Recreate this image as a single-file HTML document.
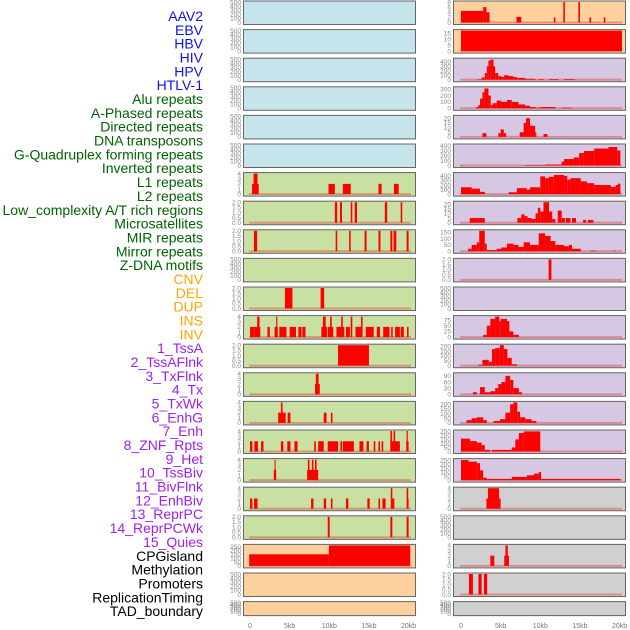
<!DOCTYPE html>
<html><head><meta charset="utf-8">
<style>
html,body{margin:0;padding:0;background:#fff;}
svg{display:block;}
text{font-family:"Liberation Sans",sans-serif;}
</style></head>
<body>
<svg id="chart" width="630" height="630" viewBox="0 0 630 630" xmlns="http://www.w3.org/2000/svg"></svg>
<script>
// ---- category labels ----
const trackLabels = ["AAV2","EBV","HBV","HIV","HPV","HTLV-1","Alu repeats","A-Phased repeats","Directed repeats","DNA transposons","G-Quadruplex forming repeats","Inverted repeats","L1 repeats","L2 repeats","Low_complexity A/T rich regions","Microsatellites","MIR repeats","Mirror repeats","Z-DNA motifs","CNV","DEL","DUP","INS","INV","1_TssA","2_TssAFlnk","3_TxFlnk","4_Tx","5_TxWk","6_EnhG","7_Enh","8_ZNF_Rpts","9_Het","10_TssBiv","11_BivFlnk","12_EnhBiv","13_ReprPC","14_ReprPCWk","15_Quies","CPGisland","Methylation","Promoters","ReplicationTiming","TAD_boundary"];
const labelColors = ["#1010ee","#1010ee","#1010ee","#1010ee","#1010ee","#1010ee","#006400","#006400","#006400","#006400","#006400","#006400","#006400","#006400","#006400","#006400","#006400","#006400","#006400","#ffa500","#ffa500","#ffa500","#ffa500","#ffa500","#a020f0","#a020f0","#a020f0","#a020f0","#a020f0","#a020f0","#a020f0","#a020f0","#a020f0","#a020f0","#a020f0","#a020f0","#a020f0","#a020f0","#a020f0","#000","#000","#000","#000","#000"];
const xTickValues = [0,5,10,15,20];
const xTickLabels = ["0","5kb","10kb","15kb","20kb"];

// ---- tick label sets ----
const ticks500 = [0,100,200,300,400,500];
const ticks4 = [0,1,2,3,4];
const ticks2 = [0,0.5,1,1.5,2];
const ticks2Labels = ["0.0","0.5","1.0","1.5","2.0"];

// ---- left column segments [startKb, endKb, value] ----
const left7 = [[0.25,1.1,2],[0.45,0.95,4],[9.9,10.7,2],[11.7,12.7,2],[16.2,16.6,2],[18.15,18.75,2]];
const left8 = [[10.7,11.0,2],[11.35,11.6,2],[12.7,12.9,2],[13.2,13.5,2],[17.0,17.3,2],[19.0,19.2,2]];
const left9 = [[0.5,0.9,2],[10.8,11.0,2],[12.5,12.7,2],[14.45,14.7,2],[16.2,16.45,2],[17.7,17.95,2],[18.1,18.45,2],[19.75,20.0,2]];
const left11 = [[4.4,5.35,2],[8.9,9.35,2]];
const left12 = [[0,0.6,2],[0.6,1.3,2],[0.9,1.2,4],[2.2,2.5,2],[3.1,3.5,2],[3.3,3.45,4],[3.7,4.6,2],[5.0,5.8,2],[6.1,6.5,2],[6.6,7.0,2],[9.0,9.7,2],[9.2,9.55,4],[9.8,10.5,2],[10.1,10.3,4],[10.9,11.9,2],[11.5,11.7,4],[12.1,12.6,2],[12.7,12.9,4],[13.3,14.0,2],[14.0,14.2,4],[14.6,15.6,2],[16.0,16.4,2],[16.8,17.6,2],[17.8,18.0,2],[18.3,18.9,2],[19.0,19.4,2],[19.8,20.0,2]];
const left13 = [[11.1,15.0,2]];
const left14 = [[8.2,8.8,2],[8.3,8.65,4]];
const left15 = [[3.55,4.5,2],[3.9,4.1,4],[4.75,5.1,2],[9.3,9.65,2],[10.2,10.4,2]];
const left16 = [[0,0.3,2],[0.55,1.0,2],[1.4,1.7,2],[3.9,4.2,2],[4.7,5.1,2],[5.6,6.0,2],[8.1,8.3,2],[8.6,9.3,2],[9.8,11.1,2],[11.4,11.6,2],[11.7,13.1,2],[13.8,14.3,2],[14.7,15.0,2],[15.6,15.8,2],[16.2,16.4,2],[16.6,16.8,2],[17.7,18.9,2],[19.7,20.0,2],[17.7,17.9,4],[18.1,18.3,4],[19.75,19.9,4]];
const left17 = [[3.0,3.3,2],[3.1,3.2,4],[7.2,8.6,2],[7.3,7.5,4],[7.8,8.0,4],[8.2,8.4,4]];
const left18 = [[0,0.3,2],[0.5,0.95,2],[7.7,8.0,2],[9.3,9.6,2],[10.2,10.4,2],[12.1,12.4,2],[14.8,15.1,2],[16.2,16.4,2],[16.7,17.1,2],[17.8,18.2,2],[19.8,20.0,2],[17.75,17.95,4],[19.75,19.95,4]];
const left19 = [[9.8,10.05,2],[17.7,17.95,2],[19.75,20.0,2]];
const left20 = [[-0.1,9.95,150],[9.95,20.2,265]];

// ---- right column segments ----
const right1 = [[0,2.8,4.5],[2.8,3.2,6],[3.2,3.6,4],[7.0,7.6,2.2],[11.7,11.9,2],[12.9,13.1,8],[14.8,15.0,8],[16.2,16.4,2],[18.0,18.2,2]];
const right2 = [[0,20.3,17]];
const right3 = [[2.0,2.6,10],[2.6,3.0,50],[3.0,3.25,150],[3.25,3.46,300],[3.46,3.7,430],[3.7,4.1,450],[4.1,4.3,300],[4.3,4.7,150],[4.7,5.1,80],[5.1,5.4,60],[5.4,6.0,100],[6.0,6.6,80],[6.6,7.05,60],[7.05,8.1,40],[8.1,9.4,20],[9.8,10.4,15],[11.1,12.3,15],[13.0,14.4,15]];
const right4 = [[1.9,2.2,20],[2.2,2.4,50],[2.4,2.7,150],[2.7,2.95,250],[2.95,3.46,310],[3.46,3.75,200],[3.75,4.0,50],[4.0,4.5,80],[4.5,5.1,120],[5.1,5.8,100],[5.8,6.4,130],[6.4,7.25,100],[7.25,8.1,60],[8.1,8.7,40],[8.7,9.4,20],[9.4,10.0,10],[10.0,11.9,20],[12.7,14.0,10]];
const right5 = [[2.7,3.2,4],[4.7,5.0,4],[5.0,5.4,8],[5.4,5.7,4],[7.4,7.9,5],[7.9,8.2,15],[8.2,8.7,20],[8.7,9.35,12],[9.35,9.5,5],[10.4,10.9,3]];
const right6 = [[-0.1,0.1,10],[8.1,10.6,10],[10.6,12.7,20],[12.7,13.0,80],[13.0,14.2,130],[14.2,14.9,160],[14.9,15.5,250],[15.5,16.8,290],[16.8,18.6,340],[18.6,19.7,370],[19.7,20.1,300]];
const right7 = [[0,1.35,150],[1.35,2.4,120],[2.4,3.0,50],[6.0,7.05,40],[7.05,8.3,130],[8.3,8.7,100],[8.7,10.0,150],[10.0,10.6,390],[10.6,11.05,350],[11.05,11.7,380],[11.7,13.0,420],[13.0,13.4,400],[13.4,13.8,320],[13.8,15.1,350],[15.1,15.9,280],[15.9,16.8,240],[16.8,18.9,200],[18.9,19.5,160],[19.5,19.8,200],[19.8,20.1,230]];
const right8 = [[1.1,3.0,5],[7.1,7.6,5],[7.6,8.0,9],[8.0,8.4,7],[8.4,8.9,5],[8.9,9.4,4],[9.4,9.7,10],[9.7,10.0,16],[10.0,10.4,12],[10.4,11.1,22],[11.1,11.5,12],[11.5,11.9,4],[12.2,12.7,13],[12.7,13.1,5],[13.2,13.8,5],[14.0,14.5,5],[15.4,15.8,3],[16.0,16.7,3]];
const right9 = [[0.9,1.35,20],[1.35,2.0,50],[2.0,2.3,70],[2.3,3.0,160],[3.0,3.25,60],[3.25,4.5,10],[4.5,5.1,20],[5.1,5.8,30],[5.8,6.6,60],[6.6,7.25,50],[7.25,7.9,35],[7.9,8.7,70],[8.7,9.8,50],[9.8,10.6,140],[10.6,11.3,120],[11.3,11.9,80],[11.9,13.0,50],[13.0,13.6,40],[13.6,14.0,50],[14.0,15.1,20],[16.3,17.0,5],[19.2,19.5,5]];
const right10 = [[11.05,11.4,2]];
const right12 = [[2.8,3.25,10],[3.25,3.7,50],[3.7,4.3,80],[4.3,4.85,90],[4.85,5.0,70],[5.0,5.8,80],[5.8,6.1,70],[6.1,6.6,25],[6.6,7.3,10]];
const right13 = [[2.2,2.7,10],[2.7,3.5,60],[3.5,3.9,40],[3.9,4.3,170],[4.3,4.9,180],[4.9,5.4,210],[5.4,5.85,170],[5.85,6.4,80],[6.4,7.05,15]];
const right14 = [[1.5,2.0,10],[2.4,3.0,35],[3.0,3.7,10],[3.7,4.3,15],[4.3,4.7,30],[4.7,5.1,50],[5.1,5.6,60],[5.6,6.2,90],[6.2,6.6,70],[6.6,7.3,30],[7.3,7.7,10]];
const right15 = [[0.7,1.35,30],[1.35,2.0,50],[2.0,2.8,60],[2.8,3.25,30],[4.1,4.9,20],[4.9,5.6,40],[5.6,6.2,110],[6.2,6.6,200],[6.6,7.1,220],[7.1,7.45,120],[7.45,8.1,60],[8.1,8.9,40],[8.9,9.5,20]];
const right16 = [[0,1.15,160],[1.15,2.0,130],[2.0,2.6,110],[2.6,3.0,80],[3.0,3.7,20],[3.9,6.4,20],[6.4,6.85,50],[6.85,7.3,150],[7.3,7.9,230],[7.9,10.0,250]];
const right17 = [[0,0.95,250],[0.95,2.0,230],[2.0,2.4,210],[2.4,2.8,120],[2.8,3.25,30],[3.25,6.4,15],[6.4,8.3,40],[8.3,9.2,60],[9.2,9.8,80],[9.8,10.1,100],[10.1,20.1,15]];
const right18 = [[3.2,3.4,2],[3.4,4.8,4],[4.8,5.0,2]];
const right20 = [[3.7,4.2,2],[5.45,6.05,2],[5.6,5.9,4]];
const right21 = [[1.0,1.5,2],[2.2,2.6,2],[2.9,3.3,2]];

// colors
const BLUE="#c6e4ec", GREEN="#c8e1a2", ORANGE="#fed09e", PURPLE="#d6c7e3", GRAY="#d0d0d0";

const leftPanels = [
 [BLUE,null,500,ticks500,null],[BLUE,null,500,ticks500,null],[BLUE,null,500,ticks500,null],
 [BLUE,null,500,ticks500,null],[BLUE,null,500,ticks500,null],[BLUE,null,500,ticks500,null],
 [GREEN,left7,4,ticks4,null],[GREEN,left8,2,ticks2,ticks2Labels],[GREEN,left9,2,ticks2,ticks2Labels],
 [GREEN,null,500,ticks500,null],[GREEN,left11,2,ticks2,ticks2Labels],[GREEN,left12,4,ticks4,null],
 [GREEN,left13,2,ticks2,ticks2Labels],[GREEN,left14,4,ticks4,null],[GREEN,left15,4,ticks4,null],
 [GREEN,left16,4,ticks4,null],[GREEN,left17,4,ticks4,null],[GREEN,left18,4,ticks4,null],
 [GREEN,left19,2,ticks2,ticks2Labels],[ORANGE,left20,265,[0,50,100,150,200,250],null],
 [ORANGE,null,500,ticks500,null],[ORANGE,null,500,ticks500,null]
];
const rightPanels = [
 [ORANGE,right1,8,[0,2,4,6,8],null],[ORANGE,right2,17,[0,5,10,15],null],
 [PURPLE,right3,460,[0,100,200,300,400],null],[PURPLE,right4,320,[0,100,200,300],null],
 [PURPLE,right5,22,[0,5,10,15,20],null],[PURPLE,right6,410,[0,100,200,300,400],null],
 [PURPLE,right7,450,[0,100,200,300,400],null],[PURPLE,right8,22,[0,5,10,15,20],null],
 [PURPLE,right9,160,[0,50,100,150],null],[PURPLE,right10,2,ticks2,ticks2Labels],
 [PURPLE,null,500,ticks500,null],[PURPLE,right12,90,[0,25,50,75],null],
 [PURPLE,right13,210,[0,50,100,150,200],null],[PURPLE,right14,100,[0,30,60,90],null],
 [PURPLE,right15,220,[0,50,100,150,200],null],[PURPLE,right16,255,[0,50,100,150,200,250],null],
 [PURPLE,right17,255,[0,50,100,150,200,250],null],[GRAY,right18,4,ticks4,null],
 [GRAY,null,500,ticks500,null],[GRAY,right20,4,ticks4,null],
 [GRAY,right21,2,ticks2,ticks2Labels],[GRAY,null,500,ticks500,null]
];

const NS="http://www.w3.org/2000/svg";
const svg=document.getElementById('chart');
function mk(tag,attrs,parent){const e=document.createElementNS(NS,tag);for(const k in attrs)e.setAttribute(k,attrs[k]);(parent||svg).appendChild(e);return e;}

// labels
trackLabels.forEach((t,i)=>{
  const e=mk('text',{x:203,y:16+i*13.84+5,'text-anchor':'end','font-size':14,fill:labelColors[i]});
  
  
  e.textContent=t;
});

const panelTop = i => 0.5+28.6*i;
function drawColumn(panels,px,x0,side){
  const xScale = kb => x0 + kb*7.93;
  panels.forEach((p,i)=>{
    const [bg,segs,maxV,ticks,tl]=p;
    const T=panelTop(i), H=(i===21)?15:24.5;
    const g=mk('g',{});
    
    
    const zeroY=T+H-2.5, topY=T+1.5;
    const yScale = v => zeroY-(v/maxV)*(zeroY-topY);
    const bgRect=mk('rect',{x:px,y:T,width:173,height:H,fill:bg},g);
    
    
    if(segs){
      const base=mk('rect',{x:xScale(-0.1),y:zeroY-1,width:xScale(20.3)-xScale(-0.1),height:2,fill:'rgba(230,60,60,0.45)'},g);
      
      
      segs.forEach(s=>{
        const y=Math.max(T+0.5,yScale(s[2]));
        const r=mk('rect',{x:xScale(s[0]),y:y,width:Math.max(1,xScale(s[1])-xScale(s[0])),height:zeroY-y,fill:'#ff0000'},g);
        
        
      });
    }
    const border=mk('rect',{x:px+0.5,y:T+0.5,width:172,height:H-1,fill:'none',stroke:'#666','stroke-width':1},g);
    
    
    ticks.forEach((tv,j)=>{
      const t=mk('text',{x:px-2,y:yScale(tv)+2.3,'text-anchor':'end','font-size':6.5,fill:'#888'},g);
      
      
      t.textContent = tl?tl[j]:String(tv);
    });
  });
  xTickValues.forEach((v,j)=>{
    const t=mk('text',{x:xScale(v),y:628,'text-anchor':'middle','font-size':7,fill:'#777'});
    
    
    t.textContent=xTickLabels[j];
  });
}
drawColumn(leftPanels,243,250,'left');
drawColumn(rightPanels,453,461,'right');
</script>
</body></html>
